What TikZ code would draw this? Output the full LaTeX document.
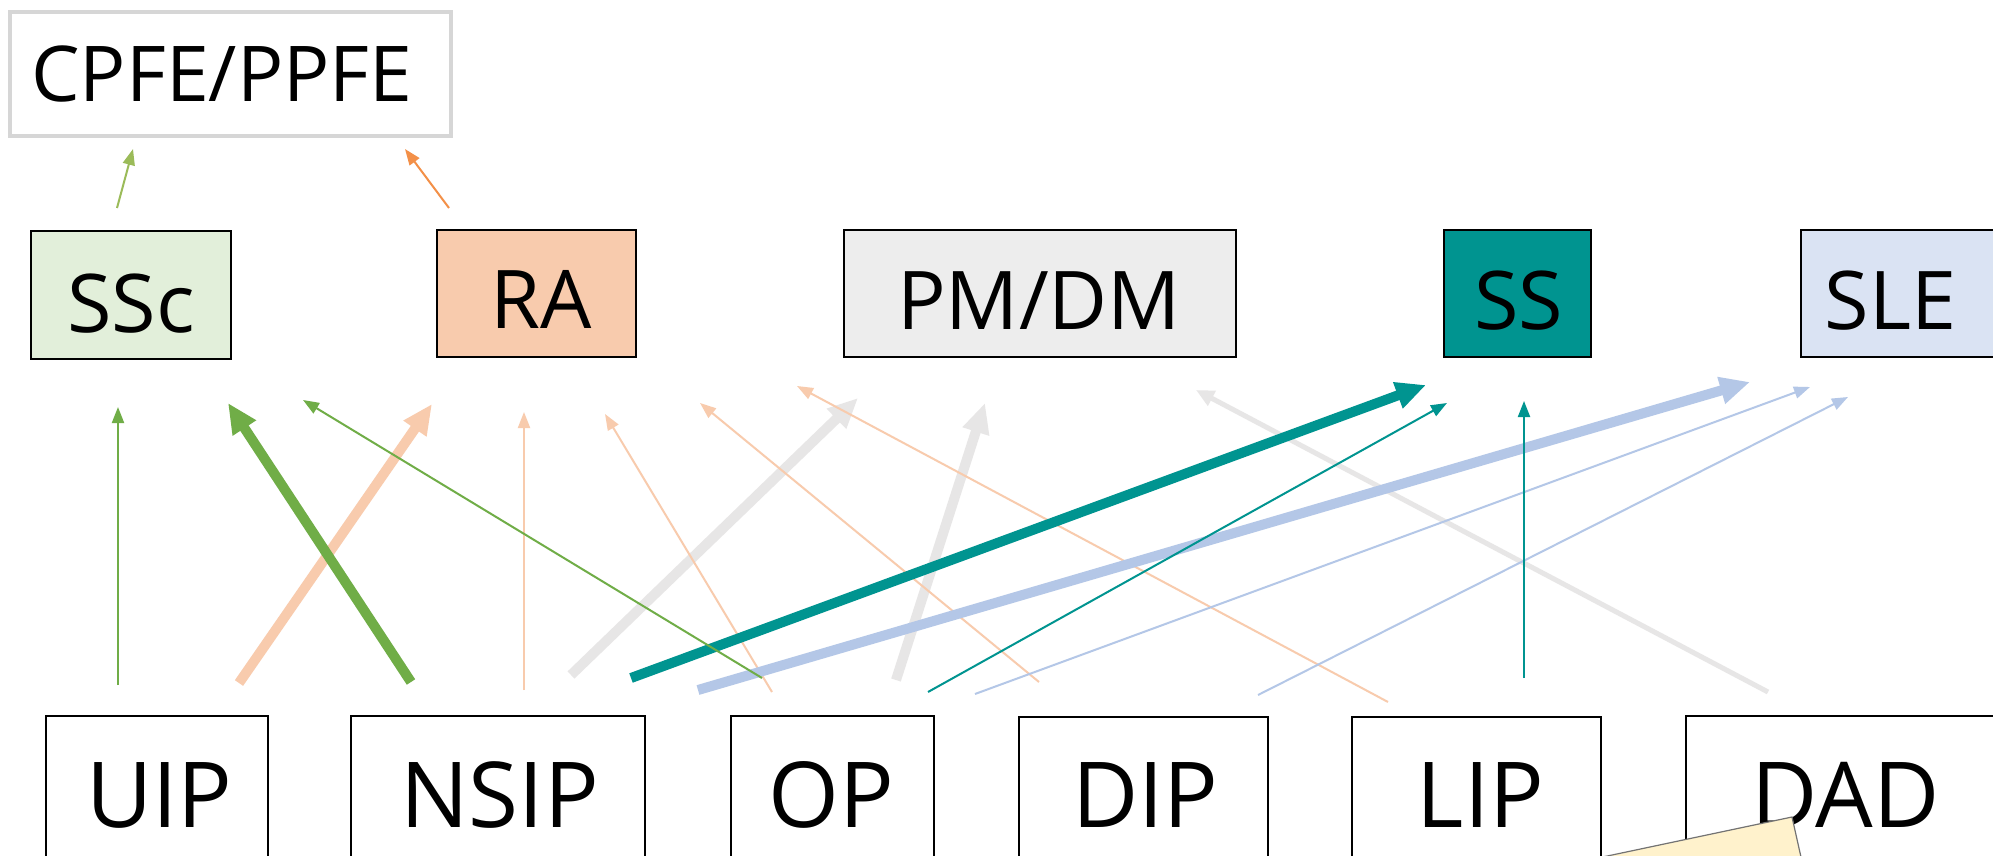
\documentclass[tikz,border=0pt]{standalone}
\usepackage{fontspec}
\setmainfont{Open Sans}
\usetikzlibrary{arrows.meta}
\definecolor{cgreen}{HTML}{70AD47}
\definecolor{cgreenL}{HTML}{9BBB59}
\definecolor{corange}{HTML}{F8CBAD}
\definecolor{corangeD}{HTML}{F39048}
\definecolor{cgray}{HTML}{E7E6E6}
\definecolor{cteal}{HTML}{009490}
\definecolor{cblue}{HTML}{B4C7E7}
\definecolor{fgreen}{HTML}{E2EFDA}
\definecolor{forange}{HTML}{F8CBAD}
\definecolor{fgray}{HTML}{EDEDED}
\definecolor{fblue}{HTML}{DAE3F3}
\definecolor{fyellow}{HTML}{FFF2CC}
\definecolor{cpborder}{HTML}{D6D6D6}
\begin{document}
\begin{tikzpicture}[x=0.5pt,y=-0.5pt,
  bx/.style 2 args={draw=black, line width=0.8pt, inner sep=0pt, minimum width=#1*0.5pt, minimum height=#2*0.5pt},
  ttop/.style={font=\fontsize{40.5pt}{44pt}\selectfont, inner sep=0pt, anchor=base},
  tbot/.style={font=\fontsize{45.5pt}{50pt}\selectfont, inner sep=0pt, anchor=base},
  tcp/.style={font=\fontsize{38.5pt}{42pt}\selectfont, inner sep=0pt, anchor=base west},
  thickA/.style={line width=5pt, -{Triangle[length=15pt,width=13pt]}},
  midA/.style={line width=2.5pt, -{Triangle[length=9pt,width=8pt]}},
  thinA/.style={line width=1pt, -{Triangle[length=8pt,width=6pt]}}
]
\clip (0,0) rectangle (1993,856);
\fill[white] (0,0) rectangle (1993,856);

% top box
\node[bx={441}{124}, draw=cpborder, line width=1.6pt] (cpfe) at (230.5,74) {};
\node[tcp] (cpfet) at (31,102) {CPFE/PPFE};

% middle row
\node[bx={200}{128}, fill=fgreen] (ssc) at (131,295) {};
\node[ttop] (ssct) at (131,332) {SSc};
\node[bx={199}{127}, fill=forange] (ra) at (536.5,293.5) {};
\node[ttop] (rat) at (541,328) {RA};
\node[bx={392}{127}, fill=fgray] (pmdm) at (1040,293.5) {};
\node[ttop] (pmdmt) at (1039,329) {PM/DM};
\node[bx={147}{127}, fill=cteal] (ss) at (1517.5,293.5) {};
\node[ttop] (sst) at (1518.5,329) {SS};
\node[bx={209}{127}, fill=fblue] (sle) at (1905.5,293.5) {};
\node[ttop] (slet) at (1890.5,329) {SLE};

% bottom row
\node[bx={222}{164}] (uip) at (157,798) {};
\node[tbot] (uipt) at (159.5,827) {UIP};
\node[bx={294}{164}] (nsip) at (498,798) {};
\node[tbot] (nsipt) at (499.5,827) {NSIP};
\node[bx={203}{164}] (op) at (832.5,798) {};
\node[tbot] (opt) at (831,827) {OP};
\node[bx={249}{163}] (dip) at (1143.5,798.5) {};
\node[tbot] (dipt) at (1145.5,827) {DIP};
\node[bx={249}{163}] (lip) at (1476.5,798.5) {};
\node[tbot] (lipt) at (1480.5,827) {LIP};
\node[bx={324}{164}] (dad) at (1848,798) {};
\node[tbot] (dadt) at (1845.5,827) {DAD};

% arrow end points
\coordinate (g1s) at (118,685);  \coordinate (g1e) at (118,407);
\coordinate (g2s) at (411,682);  \coordinate (g2e) at (228,403);
\coordinate (g3s) at (762,678);  \coordinate (g3e) at (303,400);
\coordinate (o1s) at (239,683);  \coordinate (o1e) at (432,404);
\coordinate (o2s) at (524,690);  \coordinate (o2e) at (524,412);
\coordinate (o3s) at (772,692);  \coordinate (o3e) at (605,414);
\coordinate (o4s) at (1039,682); \coordinate (o4e) at (700,403);
\coordinate (o5s) at (1388,702); \coordinate (o5e) at (797,386);
\coordinate (r1s) at (571,675);  \coordinate (r1e) at (858,398);
\coordinate (r2s) at (896,680);  \coordinate (r2e) at (985,403);
\coordinate (r3s) at (1768,692); \coordinate (r3e) at (1196,390);
\coordinate (t1s) at (631,678);  \coordinate (t1e) at (1426,385);
\coordinate (t2s) at (928,692);  \coordinate (t2e) at (1447,403);
\coordinate (t3s) at (1524,678); \coordinate (t3e) at (1524,401);
\coordinate (b1s) at (698,690);  \coordinate (b1e) at (1750,382);
\coordinate (b2s) at (975,694);  \coordinate (b2e) at (1810,387);
\coordinate (b3s) at (1258,695); \coordinate (b3e) at (1848,397);
\coordinate (ugs) at (117,208);  \coordinate (uge) at (133,149);
\coordinate (uos) at (449,208);  \coordinate (uoe) at (405,149);

% gray
\draw[thickA, cgray] (r1s) -- (r1e);
\draw[thickA, cgray] (r2s) -- (r2e);
\draw[midA, cgray] (r3s) -- (r3e);
% orange
\draw[thickA, corange] (o1s) -- (o1e);
\draw[thinA, corange] (o2s) -- (o2e);
\draw[thinA, corange] (o3s) -- (o3e);
\draw[thinA, corange] (o4s) -- (o4e);
\draw[thinA, corange] (o5s) -- (o5e);
% blue
\draw[thickA, cblue] (b1s) -- (b1e);
\draw[thinA, cblue] (b2s) -- (b2e);
\draw[thinA, cblue] (b3s) -- (b3e);
% teal
\draw[thickA, cteal] (t1s) -- (t1e);
\draw[thinA, cteal] (t2s) -- (t2e);
\draw[thinA, cteal] (t3s) -- (t3e);
% green
\draw[thickA, cgreen] (g2s) -- (g2e);
\draw[thinA, cgreen] (g1s) -- (g1e);
\draw[thinA, cgreen] (g3s) -- (g3e);
% top arrows
\draw[thinA, cgreenL] (ugs) -- (uge);
\draw[thinA, corangeD] (uos) -- (uoe);

% yellow note
\draw[fill=fyellow, draw=black!55, line width=0.6pt] (1560,866) -- (1792,817) -- (1805,875) -- cycle;
\end{tikzpicture}
\end{document}
